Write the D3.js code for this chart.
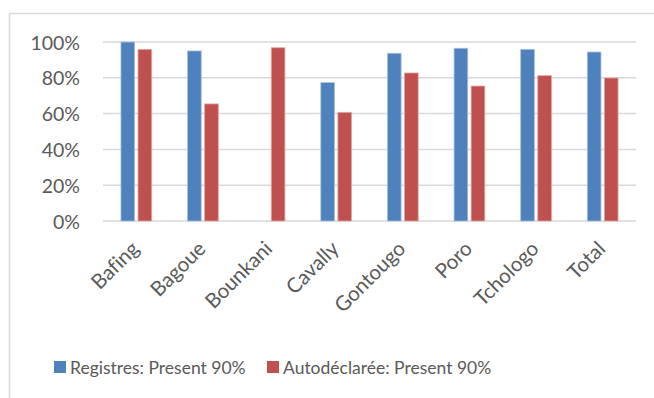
<!DOCTYPE html>
<html>
<head>
<meta charset="utf-8">
<script src="https://cdn.jsdelivr.net/npm/d3@7"></script>
<style>
  body { margin: 0; background: #fff; }
  svg text { font-family: Lato, "Open Sans", sans-serif; fill: #595959; font-variant-ligatures: none; }
</style>
</head>
<body>
<div id="chart"></div>
<script>
// 数据
const categories = ["Bafing", "Bagoue", "Bounkani", "Cavally", "Gontougo", "Poro", "Tchologo", "Total"];
const seriesNames = ["Registres: Present 90%", "Autodéclarée: Present 90%"];
const registres = [1.00, 0.95, null, 0.773, 0.937, 0.965, 0.959, 0.944];
const autodeclaree = [0.959, 0.654, 0.968, 0.607, 0.827, 0.754, 0.812, 0.799];
const yTicks = [0, 0.2, 0.4, 0.6, 0.8, 1.0];
const colors = ["#4f81bd", "#c0504d"];

const width = 654, height = 398;
const margin = { left: 103, right: 18, top: 42, bottom: 177 };

const svg = d3.select("#chart").append("svg")
    .attr("width", width)
    .attr("height", height);

// 外框
svg.append("rect")
    .attr("x", 9.5).attr("y", 13.5)
    .attr("width", 700).attr("height", 500)
    .attr("fill", "none")
    .attr("stroke", "#d9d9d9")
    .attr("stroke-width", 1.5);

const x0 = d3.scaleBand()
    .domain(categories)
    .range([margin.left, width - margin.right]);

const x1 = d3.scaleBand()
    .domain([0, 1])
    .range([0, x0.bandwidth()])
    .paddingInner(0.2)
    .paddingOuter(1.05);

const y = d3.scaleLinear()
    .domain([0, 1])
    .range([height - margin.bottom, margin.top]);

// 网格线
svg.append("g")
    .selectAll("line")
    .data(yTicks)
    .enter()
    .append("line")
    .attr("x1", margin.left)
    .attr("x2", width - margin.right)
    .attr("y1", d => y(d))
    .attr("y2", d => y(d))
    .attr("stroke", "#d9d9d9")
    .attr("stroke-width", 1.5);

// y轴标签
svg.append("g")
    .selectAll("text")
    .data(yTicks)
    .enter()
    .append("text")
    .attr("x", 80)
    .attr("y", d => y(d))
    .attr("text-anchor", "end")
    .attr("dominant-baseline", "central")
    .attr("font-size", "19.5px")
    .text(d3.format(".0%"));

// 柱子
const seriesData = [registres, autodeclaree];
seriesData.forEach((vals, s) => {
    svg.append("g")
        .selectAll("rect")
        .data(categories.map((c, i) => ({ c, v: vals[i] })).filter(d => d.v != null))
        .enter()
        .append("rect")
        .attr("x", d => x0(d.c) + x1(s))
        .attr("y", d => y(d.v))
        .attr("width", x1.bandwidth())
        .attr("height", d => y(0) - y(d.v))
        .attr("fill", colors[s])
        .attr("stroke", s === 0 ? "#a7c0de" : "#dfa8a6")
        .attr("stroke-width", 0.8);
});

// x轴标签（旋转45度）
svg.append("g")
    .selectAll("text")
    .data(categories)
    .enter()
    .append("text")
    .attr("transform", d => `translate(${x0(d) + x0.bandwidth() / 2 + 4}, ${y(0) + 29}) rotate(-45)`)
    .attr("text-anchor", "end")
    .attr("font-size", "20.5px")
    .text(d => d);

// 图例
const legendItems = [{ x: 54 }, { x: 267 }];
legendItems.forEach((item, i) => {
    svg.append("rect")
        .attr("x", item.x)
        .attr("y", 361)
        .attr("width", 12)
        .attr("height", 12)
        .attr("fill", colors[i]);
    svg.append("text")
        .attr("x", item.x + 16)
        .attr("y", 367)
        .attr("dominant-baseline", "central")
        .attr("font-size", "17.5px")
        .text(seriesNames[i]);
});
</script>
</body>
</html>
